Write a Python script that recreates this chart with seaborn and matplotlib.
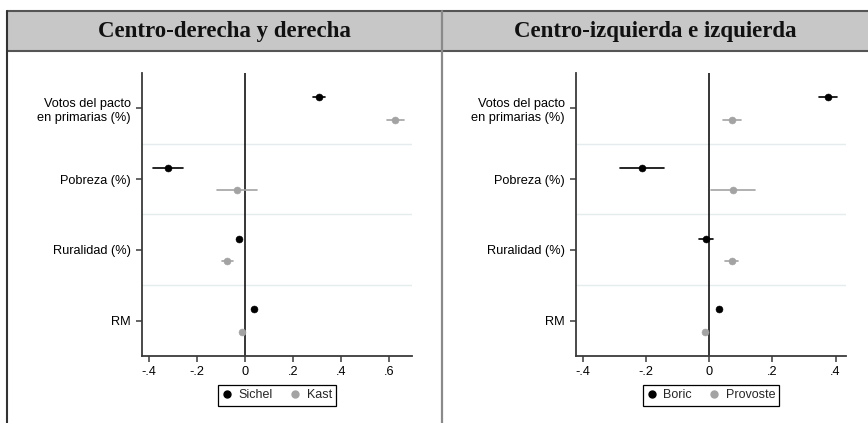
import matplotlib

matplotlib.use("Agg")
import matplotlib.pyplot as plt
import numpy as np
import pandas as pd
import seaborn as sns
from matplotlib.lines import Line2D
from matplotlib.patches import Rectangle

# Data (point estimate and CI half-width)
categories = ["Votos del pacto\nen primarias (%)", "Pobreza (%)", "Ruralidad (%)", "RM"]

right_names = ["Sichel", "Kast"]
sichel_est = [0.308, -0.322, -0.026, 0.035]
sichel_ci = [0.025, 0.062, 0.009, 0.005]
kast_est = [0.625, -0.033, -0.075, -0.014]
kast_ci = [0.035, 0.083, 0.023, 0.005]

left_names = ["Boric", "Provoste"]
boric_est = [0.377, -0.213, -0.010, 0.032]
boric_ci = [0.028, 0.071, 0.021, 0.005]
provoste_est = [0.073, 0.076, 0.071, -0.013]
provoste_ci = [0.028, 0.069, 0.020, 0.005]

panel_titles = ["Centro-derecha y derecha", "Centro-izquierda e izquierda"]
left_ticks = [-0.4, -0.2, 0, 0.2, 0.4, 0.6]
right_ticks = [-0.4, -0.2, 0, 0.2, 0.4]


def long_frame(names, ests, cis):
    """Three rows per estimate (lo, est, hi): median gives the point, min/max the CI."""
    rows = []
    for name, est, ci in zip(names, ests, cis):
        for cat, e, c in zip(categories, est, ci):
            for v in (e - c, e, e + c):
                rows.append({"var": cat, "model": name, "coef": v})
    return pd.DataFrame(rows)


def stata_fmt(v):
    if abs(v) < 1e-9:
        return "0"
    s = f"{v:.1f}"
    return s.replace("0.", ".")


sns.set_theme(style="white")
plt.rcParams["font.family"] = ["Liberation Sans", "DejaVu Sans"]

fig = plt.figure(figsize=(8.68, 4.23), dpi=100)
W, H = 868, 423


def px_axes(x0, x1, y0, y1):
    return fig.add_axes([x0 / W, 1 - y1 / H, (x1 - x0) / W, (y1 - y0) / H])


# Panel frames and grey title bars (figure decoration)
for x0, x1, title in [(7, 442, panel_titles[0]), (442, 868, panel_titles[1])]:
    fig.add_artist(Rectangle((x0 / W, 1 - 51 / H), (x1 - x0) / W, 40 / H,
                             transform=fig.transFigure, facecolor="#c7c7c7",
                             edgecolor="none", zorder=0))
    fig.add_artist(Line2D([x0 / W, x1 / W], [1 - 11 / H] * 2, color="#555555", lw=1.5))
    fig.add_artist(Line2D([x0 / W, x1 / W], [1 - 51 / H] * 2, color="#555555", lw=1.5))
    fig.text((x0 + x1) / 2 / W, 1 - 31 / H, title, ha="center", va="center",
             family="Liberation Serif", fontweight="bold", fontsize=16.5, color="#111111")
fig.add_artist(Line2D([7 / W] * 2, [0, 1 - 11 / H], color="#333333", lw=1.5))
fig.add_artist(Line2D([442 / W] * 2, [0, 1 - 11 / H], color="#8a8a8a", lw=1.6))

panels = [
    (px_axes(142, 412, 73, 356), long_frame(right_names, [sichel_est, kast_est], [sichel_ci, kast_ci]),
     right_names, (-0.43, 0.695), left_ticks),
    (px_axes(576, 846, 73, 356), long_frame(left_names, [boric_est, provoste_est], [boric_ci, provoste_ci]),
     left_names, (-0.422, 0.433), right_ticks),
]

for ax, df, names, xlim, ticks in panels:
    for yb in (0.5, 1.5, 2.5):
        ax.axhline(yb, color="#e4ecee", lw=1, zorder=0)
    ax.axvline(0, color="black", lw=1.1, zorder=1)
    sns.pointplot(
        data=df, x="coef", y="var", hue="model", order=categories, hue_order=names,
        palette=["black", "#a3a3a3"], estimator="median",
        errorbar=lambda v: (v.min(), v.max()), dodge=0.32, linestyle="none",
        markers="o", markersize=5, markeredgewidth=0.4,
        err_kws={"linewidth": 1.2}, orient="h", ax=ax,
    )
    ax.set_xlim(*xlim)
    ax.set_ylim(3.5, -0.5)
    ax.set_xticks(ticks)
    ax.set_xticklabels([stata_fmt(t) for t in ticks])
    ax.set_xlabel("")
    ax.set_ylabel("")
    for side in ("top", "right"):
        ax.spines[side].set_visible(False)
    for side in ("left", "bottom"):
        ax.spines[side].set_color("#3a3a3a")
        ax.spines[side].set_linewidth(1.3)
    ax.tick_params(axis="both", which="major", direction="out", length=4, width=1.1,
                   color="#3a3a3a", labelsize=9.2, labelcolor="black",
                   left=True, bottom=True)
    ax.tick_params(axis="y", pad=4)
    ax.tick_params(axis="x", pad=3)

    handles = [Line2D([], [], marker="o", linestyle="none", color=c, markersize=5)
               for c in ("black", "#a3a3a3")]
    ax.legend(handles, names, loc="upper center", bbox_to_anchor=(0.5, -0.08), ncol=2,
              frameon=True, fancybox=False, edgecolor="black", framealpha=1,
              fontsize=9, handlelength=0.8, handletextpad=0.5, columnspacing=1.4,
              borderpad=0.35)
    ax.get_legend().get_frame().set_linewidth(0.9)

fig.savefig("out.png", dpi=100, facecolor="white")
